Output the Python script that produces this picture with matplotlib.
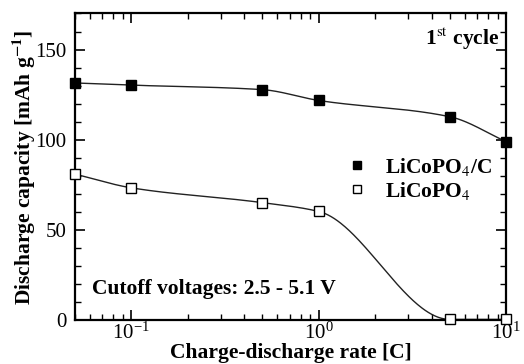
import numpy as np
import matplotlib.pyplot as plt

# C-rates and discharge capacities (mAh/g), 1st cycle
rate = [0.05, 0.1, 0.5, 1, 5, 10]
cap_coated = [131.5, 130.3, 127.8, 121.8, 112.8, 99.0]
cap_bare = [81.0, 73.4, 65.2, 60.3, 0.5, 0.5]


def pchip(x, y, xs):
    # monotone cubic Hermite interpolation
    x = np.asarray(x, float)
    y = np.asarray(y, float)
    h = np.diff(x)
    d = np.diff(y) / h
    m = np.zeros_like(y)
    for k in range(1, len(x) - 1):
        if d[k - 1] * d[k] > 0:
            w1 = 2 * h[k] + h[k - 1]
            w2 = h[k] + 2 * h[k - 1]
            m[k] = (w1 + w2) / (w1 / d[k - 1] + w2 / d[k])
    m[0] = d[0]
    m[-1] = d[-1] if d[-1] * d[-2] > 0 else 0
    idx = np.clip(np.searchsorted(x, xs) - 1, 0, len(h) - 1)
    t = (xs - x[idx]) / h[idx]
    h00 = 2 * t**3 - 3 * t**2 + 1
    h10 = t**3 - 2 * t**2 + t
    h01 = -2 * t**3 + 3 * t**2
    h11 = t**3 - t**2
    return (h00 * y[idx] + h10 * h[idx] * m[idx]
            + h01 * y[idx + 1] + h11 * h[idx] * m[idx + 1])


plt.rcParams['font.family'] = 'Liberation Serif'
plt.rcParams['mathtext.fontset'] = 'stix'

fig = plt.figure(figsize=(5.24, 3.64), dpi=100)
ax = fig.add_axes([0.143, 0.12, 0.823, 0.843])

lx = np.log10(rate)
xs = np.linspace(lx[0], lx[-1], 400)
for cap, face, lab in [(cap_coated, 'black', r'LiCoPO$_4$/C'),
                       (cap_bare, 'white', r'LiCoPO$_4$')]:
    ax.plot(10**xs, pchip(lx, cap, xs), color='#222222', lw=1.0)
    ax.plot(rate, cap, 's', ms=7, mfc=face, mec='black', mew=1.0,
            clip_on=False, zorder=5, label=lab)

ax.set_xscale('log')
ax.set_xlim(0.05, 10)
ax.set_ylim(0, 170)
ax.set_yticks([0, 50, 100, 150])
ax.set_yticks(np.arange(0, 171, 10), minor=True)

for s in ax.spines.values():
    s.set_linewidth(1.6)
ax.tick_params(which='both', direction='in', top=True, right=True,
               labelsize=15)
ax.tick_params(which='major', length=7, width=1.2, pad=6)
ax.tick_params(which='minor', length=4, width=1.0)
ax.tick_params(axis='x', which='major', pad=2)

ax.set_xlabel('Charge-discharge rate [C]', fontsize=15.5, fontweight='bold',
              labelpad=-1)
ax.set_ylabel(r'Discharge capacity [mAh g$^{\mathbf{-1}}$]', fontsize=15.5,
              fontweight='bold', labelpad=-2)

ax.text(0.985, 0.96, r'1$^{\mathrm{st}}$ cycle', transform=ax.transAxes,
        ha='right', va='top', fontsize=15.5, fontweight='bold')
ax.text(0.04, 0.07, 'Cutoff voltages: 2.5 - 5.1 V', transform=ax.transAxes,
        ha='left', va='bottom', fontsize=15.5, fontweight='bold')

leg = ax.legend(loc='upper left', bbox_to_anchor=(0.595, 0.585), frameon=False,
                prop={'weight': 'bold', 'size': 15.5}, handlelength=1.0,
                handletextpad=0.8, labelspacing=0.1, borderpad=0.2)
for h in leg.legend_handles:
    h.set_markersize(6)

fig.savefig('out.png', dpi=100)
